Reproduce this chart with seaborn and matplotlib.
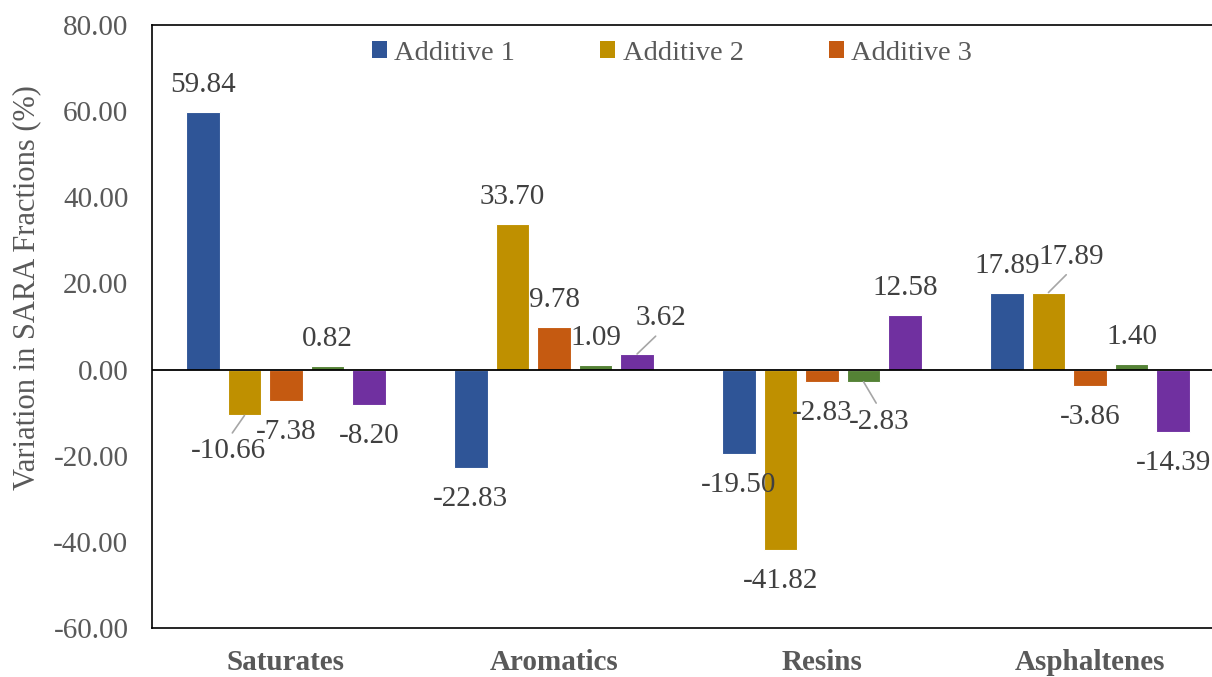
import numpy as np
import pandas as pd
import matplotlib
matplotlib.use("Agg")
import matplotlib.pyplot as plt
import seaborn as sns
from matplotlib.patches import Patch

# SARA fractions and the change each additive gives
fractions = ["Saturates", "Aromatics", "Resins", "Asphaltenes"]
series = ["Additive 1", "Additive 2", "Additive 3", "Additive 4", "Additive 5"]
additive_1 = [59.84, -22.83, -19.50, 17.89]
additive_2 = [-10.66, 33.70, -41.82, 17.89]
additive_3 = [-7.38, 9.78, -2.83, -3.86]
additive_4 = [0.82, 1.09, -2.83, 1.40]
additive_5 = [-8.20, 3.62, 12.58, -14.39]
legend_series = ["Additive 1", "Additive 2", "Additive 3"]

colors = ["#2F5597", "#BF9000", "#C55A11", "#548235", "#7030A0"]

# build long table for seaborn
rows = []
for name, vals in zip(series, [additive_1, additive_2, additive_3, additive_4, additive_5]):
    for frac, v in zip(fractions, vals):
        rows.append([frac, name, v])
df = pd.DataFrame(rows, columns=["Fraction", "Series", "Value"])

sns.set_style("white")
plt.rcParams["font.family"] = ["Liberation Serif", "DejaVu Serif"]
plt.rcParams["axes.unicode_minus"] = False

fig = plt.figure(figsize=(12.12, 6.77), dpi=100)
ax = fig.add_axes([152 / 1212, 49 / 677, 1072 / 1212, 603 / 677])

sns.barplot(data=df, x="Fraction", y="Value", hue="Series", order=fractions,
            hue_order=series, palette=colors, saturation=1, width=0.775, gap=0.2,
            edgecolor="white", linewidth=0.8, legend=False, ax=ax)

ax.set_ylim(-60, 80)
ax.set_yticks(np.arange(-60, 81, 20))
ax.set_yticklabels([f"{t:.2f}" for t in np.arange(-60, 81, 20)])
ax.axhline(0, color="black", lw=1.3, zorder=3)

tick_gray = "#595959"
ax.tick_params(axis="y", length=0, pad=17, labelsize=21, labelcolor=tick_gray)
ax.tick_params(axis="x", length=0, pad=15, labelsize=21, labelcolor=tick_gray)
for lab in ax.get_xticklabels():
    lab.set_fontweight("bold")

ax.set_xlabel("")
ax.set_ylabel("Variation in SARA Fractions (%)", fontsize=22, color=tick_gray)
ax.yaxis.set_label_coords(-0.1035, 0.564)

for side in ["left", "top", "bottom", "right"]:
    ax.spines[side].set_color("black")
    ax.spines[side].set_linewidth(1.2)

# data labels; a few are moved off the bar with a leader line
moved = {
    (1, 0): (-16, -36, (0.5, 1)),
    (4, 1): (24, 36, (0.5, 0)),
    (3, 2): (16, -40, (0.5, 1)),
    (1, 3): (23, 36, (0.5, 0)),
}
for si, cont in enumerate(ax.containers):
    for ci, bar in enumerate(cont):
        val = df[(df.Series == series[si]) & (df.Fraction == fractions[ci])].Value.iloc[0]
        xc = bar.get_x() + bar.get_width() / 2
        if (si, ci) in moved:
            dx, dy, rp = moved[(si, ci)]
            ax.annotate(f"{val:.2f}", xy=(xc, val), xytext=(dx, dy),
                        textcoords="offset pixels", ha="center", va="center",
                        fontsize=21, color="#404040",
                        arrowprops=dict(arrowstyle="-", color="#A6A6A6", lw=1.2,
                                        relpos=rp, shrinkA=2, shrinkB=0))
        else:
            dy = 27 if val >= 0 else -31
            ax.annotate(f"{val:.2f}", xy=(xc, val), xytext=(0, dy),
                        textcoords="offset pixels", ha="center", va="center",
                        fontsize=21, color="#404040")

handles = [Patch(facecolor=c, edgecolor="none") for c in colors[:3]]
leg = fig.legend(handles, legend_series, loc="center", bbox_to_anchor=(672 / 1212, 1 - 53 / 677),
                 ncol=3, frameon=False, fontsize=20.5, handlelength=0.53, handleheight=0.53,
                 handletextpad=0.25, columnspacing=3.0, labelcolor=tick_gray)

fig.savefig("out.png", dpi=100)
